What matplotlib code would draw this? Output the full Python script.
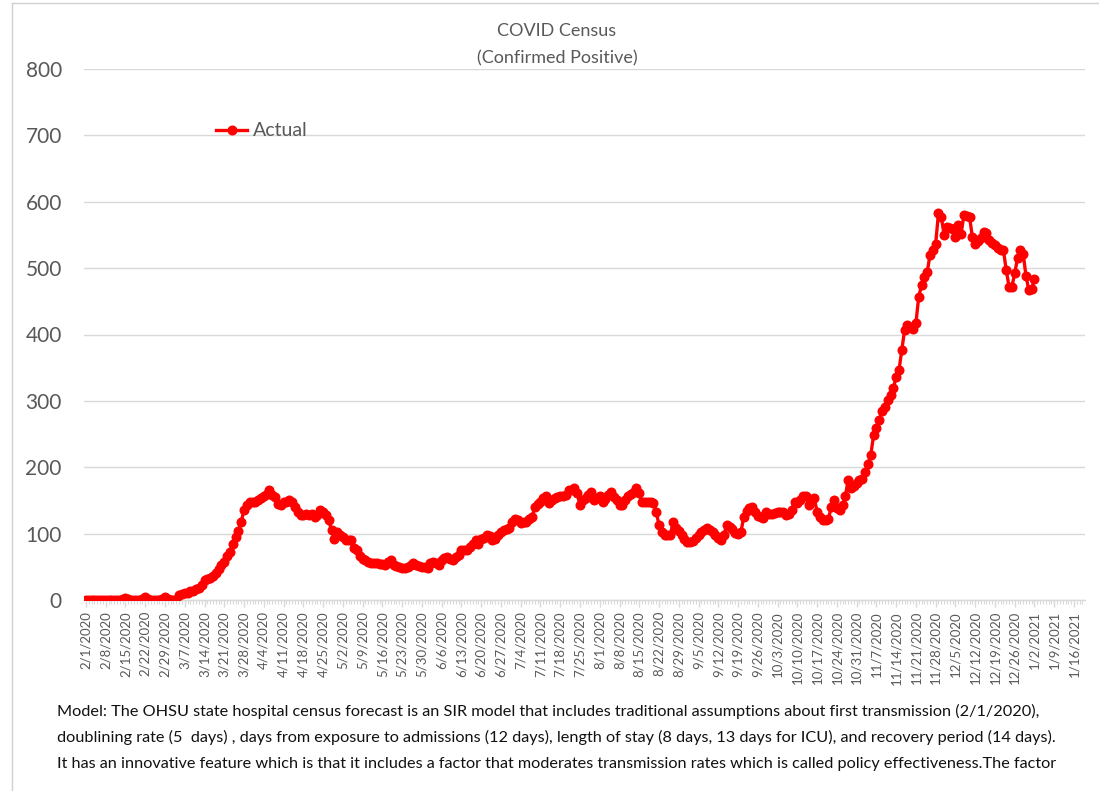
import matplotlib
matplotlib.use("Agg")
import matplotlib.pyplot as plt
import matplotlib.dates as mdates
from matplotlib.lines import Line2D
import pandas as pd

# Daily confirmed-positive COVID census, starting 2/1/2020
start_date = "2020-02-01"
census = [
    # Feb 2020
    0, 0, 0, 0, 0, 0, 0, 0, 0, 0, 0, 0, 0, 2, 3, 1, 0, 0, 0, 0,
    1, 4, 1, 0, 0, 0, 0, 2, 5,
    # Mar 2020
    1, 0, 0, 0, 8, 9, 10, 11, 13, 14, 16, 18, 23, 30, 31, 33, 36, 40, 46, 52,
    58, 66, 72, 85, 95, 104, 118, 136, 143, 148, 148,
    # Apr 2020
    147, 151, 153, 156, 160, 165, 158, 155, 145, 143, 148, 148, 151, 148, 140, 133, 128, 128, 130, 128,
    130, 125, 128, 136, 133, 128, 120, 105, 92, 103,
    # May 2020
    98, 95, 90, 91, 90, 78, 75, 67, 62, 60, 57, 56, 55, 55, 54, 54, 53, 58, 60, 53,
    51, 50, 48, 48, 50, 53, 56, 52, 51, 49, 49,
    # Jun 2020
    48, 55, 58, 56, 53, 60, 63, 65, 62, 61, 65, 68, 75, 75, 75, 80, 85, 90, 85, 92,
    94, 98, 96, 90, 92, 98, 103, 105, 107, 108,
    # Jul 2020
    118, 122, 120, 116, 117, 118, 122, 125, 140, 145, 148, 153, 156, 146, 150, 153, 155, 156, 157, 158,
    165, 166, 168, 161, 143, 150, 153, 158, 163, 151, 153,
    # Aug 2020
    156, 147, 152, 158, 163, 155, 151, 143, 143, 150, 156, 160, 163, 168, 161, 148, 148, 148, 147, 146,
    133, 113, 103, 98, 98, 98, 118, 108, 104, 98, 92,
    # Sep 2020
    88, 87, 89, 93, 98, 102, 106, 108, 106, 103, 98, 93, 90, 98, 113, 110, 107, 101, 100, 102,
    125, 134, 138, 140, 132, 127, 125, 123, 133, 130,
    # Oct 2020
    130, 131, 133, 133, 132, 128, 130, 135, 148, 146, 150, 156, 156, 143, 148, 153, 133, 125, 120, 120,
    122, 140, 151, 138, 136, 143, 156, 181, 168, 171, 176,
    # Nov 2020
    181, 183, 193, 205, 218, 248, 259, 271, 285, 291, 302, 309, 319, 336, 346, 377, 407, 414, 412, 409,
    417, 457, 474, 487, 494, 520, 527, 537, 583, 577,
    # Dec 2020
    550, 562, 560, 559, 547, 565, 552, 580, 578, 577, 547, 537, 541, 546, 555, 553, 542, 538, 535, 531,
    528, 527, 497, 472, 472, 492, 515, 527, 522, 488, 467,
    # Jan 2021
    469, 483,
]

series_name = "Actual"
title_lines = ["COVID Census", "(Confirmed Positive)"]
y_ticks = [0, 100, 200, 300, 400, 500, 600, 700, 800]
tick_start = "2020-02-01"
tick_end = "2021-01-16"
footnote_lines = [
    "Model: The OHSU state hospital census forecast is an SIR model that includes traditional assumptions about first transmission (2/1/2020),",
    "doublining rate (5  days) , days from exposure to admissions (12 days), length of stay (8 days, 13 days for ICU), and recovery period (14 days).",
    "It has an innovative feature which is that it includes a factor that moderates transmission rates which is called policy effectiveness.The factor",
]

dates = pd.date_range(start_date, periods=len(census), freq="D")
tick_dates = pd.date_range(tick_start, tick_end, freq="7D")
tick_labels = [f"{d.month}/{d.day}/{d.year}" for d in tick_dates]

FONT = ["Lato", "DejaVu Sans"]
plt.rcParams["font.family"] = FONT
GREY_TXT = "#595959"
GRID = "#d9d9d9"
RED = "#ff0000"

W, H = 1099, 791
fig = plt.figure(figsize=(W / 100, H / 100), dpi=100)
fig.patch.set_facecolor("white")

# thin chart-area border along the left and top
fig.add_artist(Line2D([12 / W, 12 / W], [0, 1 - 3 / H],
                      transform=fig.transFigure, color="#d0d0d0", linewidth=1.0))
fig.add_artist(Line2D([12 / W, 1.0], [1 - 3 / H, 1 - 3 / H],
                      transform=fig.transFigure, color="#d0d0d0", linewidth=1.0))

ax = fig.add_axes([84 / W, 1 - 600 / H, (1085 - 84) / W, (600 - 69) / H])
ax.plot(dates, census, color=RED, linewidth=2.4, marker="o",
        markersize=6.2, markerfacecolor=RED, markeredgecolor=RED,
        solid_joinstyle="round", label=series_name, zorder=3)

d0 = mdates.date2num(pd.Timestamp(start_date))
ax.set_xlim(d0 - 0.7, d0 + 353.9)
ax.set_ylim(0, 800)

ax.set_yticks(y_ticks)
ax.set_yticklabels([str(v) for v in y_ticks])
ax.tick_params(axis="y", length=0, pad=16, labelsize=15, labelcolor=GREY_TXT)
ax.grid(axis="y", color=GRID, linewidth=1.0)
ax.set_axisbelow(True)

ax.set_xticks(mdates.date2num(tick_dates))
ax.set_xticklabels(tick_labels, rotation=90, ha="center", va="top")
ax.xaxis.set_minor_locator(mdates.DayLocator())
ax.tick_params(axis="x", which="major", length=5, width=1, color=GRID,
               pad=3, labelsize=9.5, labelcolor=GREY_TXT, direction="out")
ax.tick_params(axis="x", which="minor", length=3, width=0.8, color=GRID,
               direction="out")

for side in ("top", "right", "left"):
    ax.spines[side].set_visible(False)
ax.spines["bottom"].set_color(GRID)
ax.spines["bottom"].set_linewidth(1.0)

fig.text(557 / W, 1 - 31 / H, title_lines[0], ha="center", va="center",
         fontsize=13, color=GREY_TXT)
fig.text(557 / W, 1 - 58 / H, title_lines[1], ha="center", va="center",
         fontsize=13, color=GREY_TXT)

handle = Line2D([], [], color=RED, linewidth=2.4, marker="o",
                markersize=6.2, markerfacecolor=RED, markeredgecolor=RED)
fig.legend([handle], [series_name], loc="center left",
           bbox_to_anchor=(216 / W, 1 - 131 / H), frameon=False,
           borderpad=0, borderaxespad=0, handlelength=1.6,
           handletextpad=0.3, fontsize=14, labelcolor=GREY_TXT)

for line, ypix in zip(footnote_lines, [711, 737, 764]):
    fig.text(57 / W, 1 - ypix / H, line, ha="left", va="center",
             fontsize=11.7, color="#111111")

fig.savefig("out.png", dpi=100, facecolor="white")
